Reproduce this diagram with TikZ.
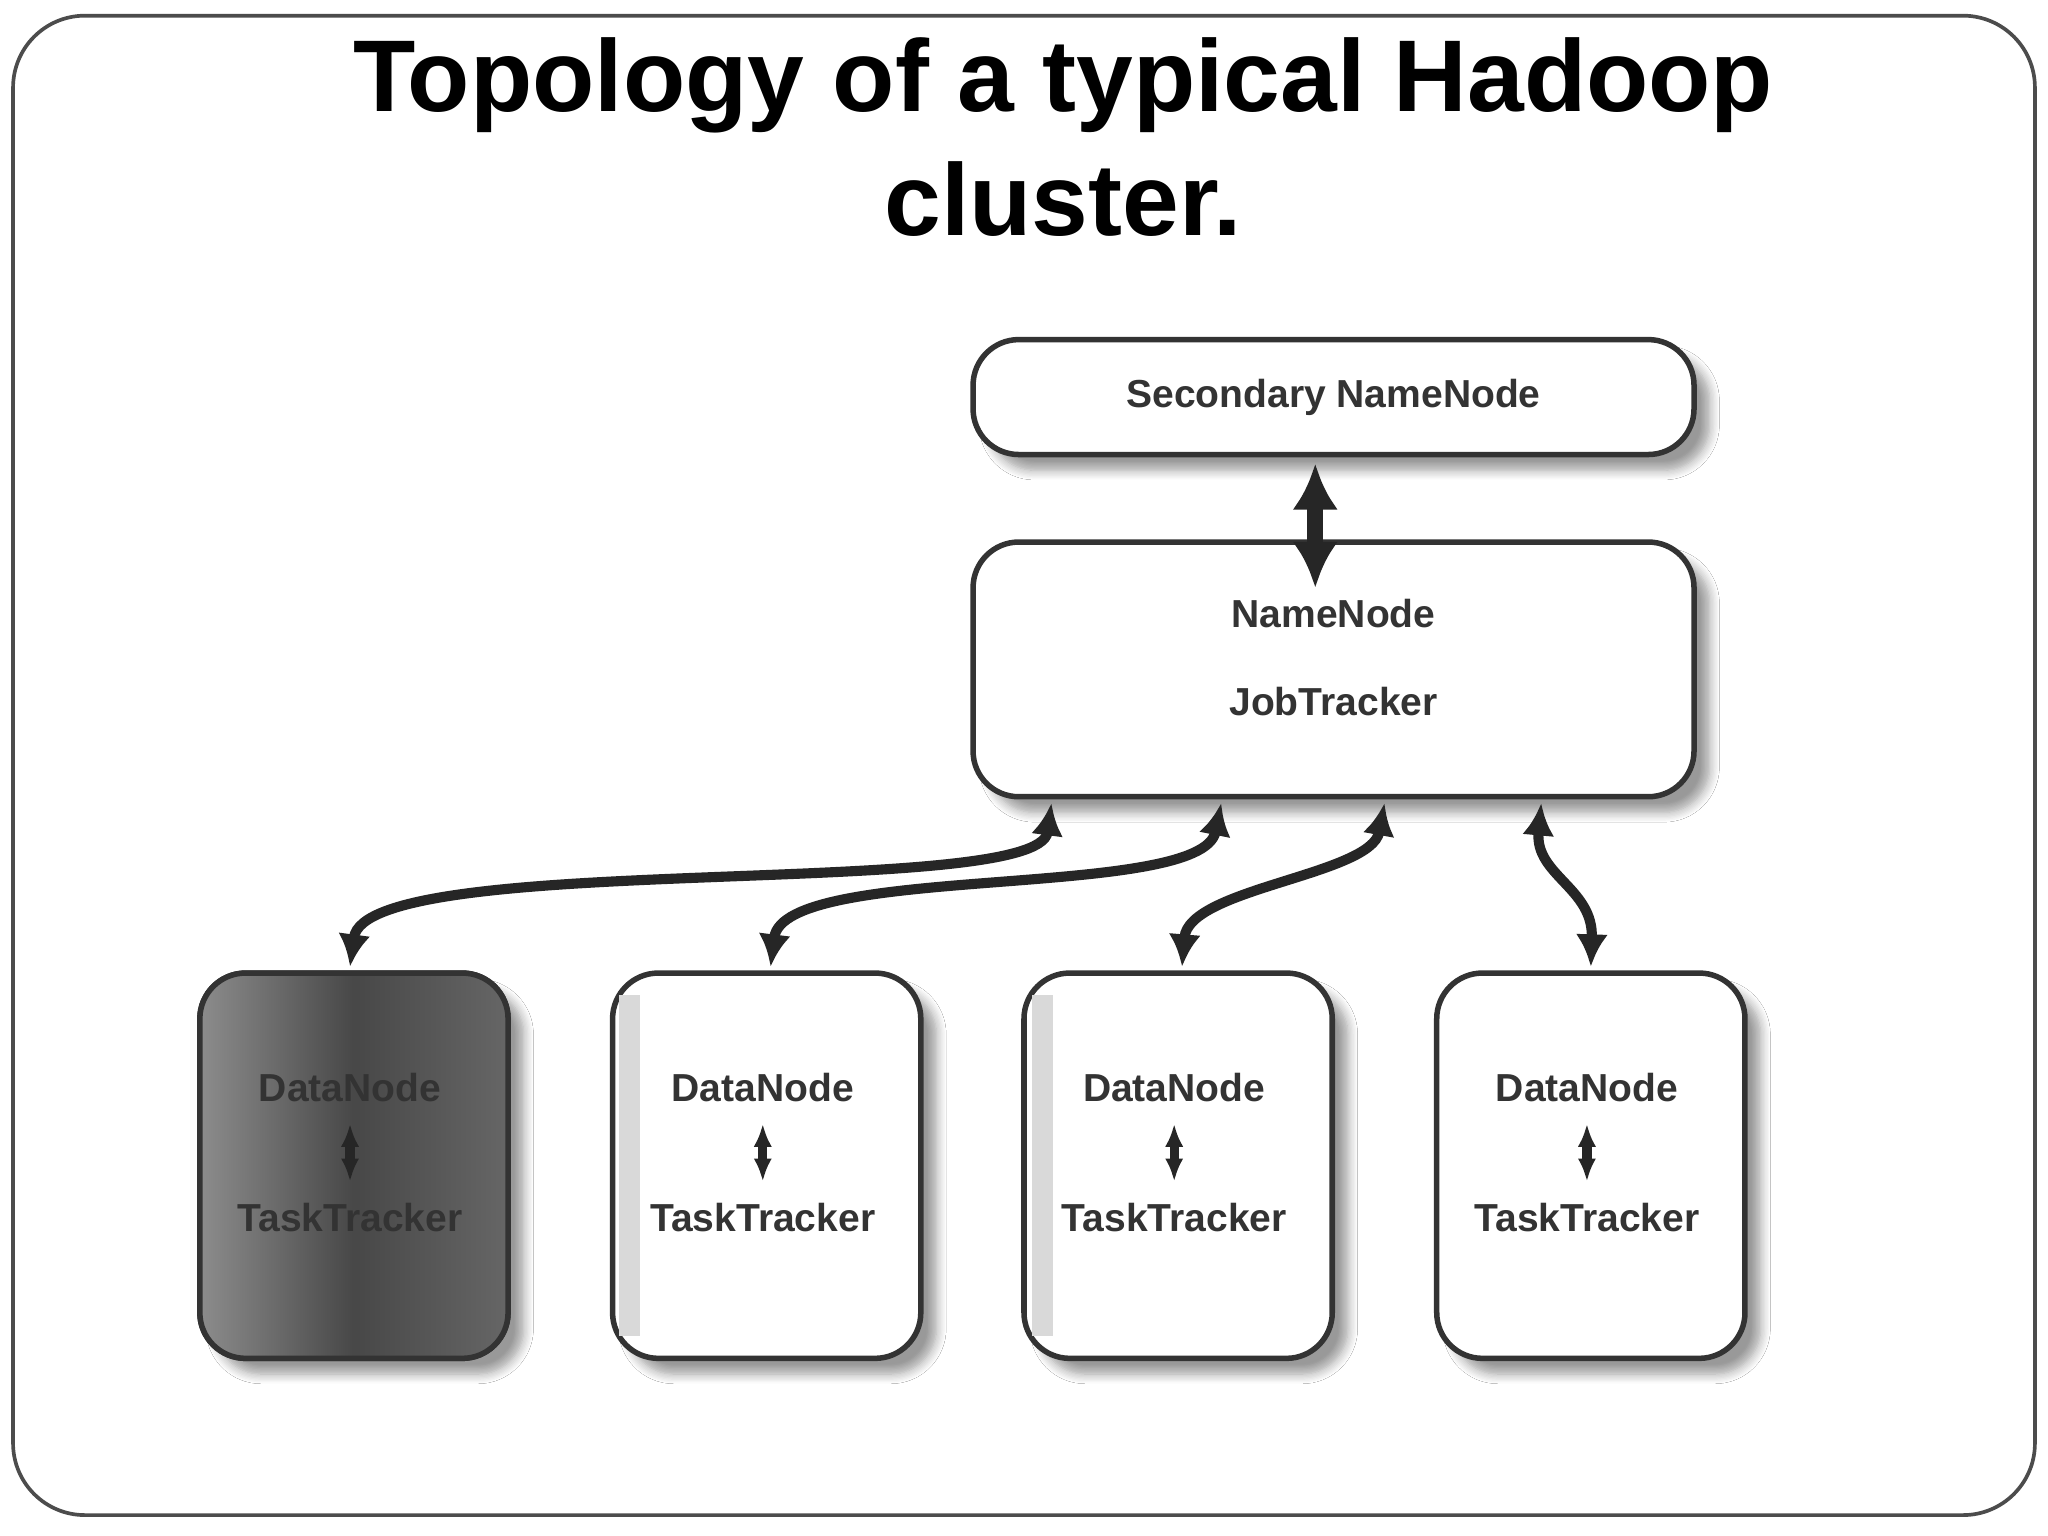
\documentclass[tikz,border=0pt]{standalone}
\usepackage{fontspec}
\setmainfont{Liberation Sans}
\usetikzlibrary{shadows.blur,arrows.meta,calc}
\begin{document}
\begin{tikzpicture}[x=0.01cm,y=-0.01cm,
 box/.style={draw=black!80,line width=1.2pt,rounded corners=0.35cm,fill=white,blur shadow={shadow xshift=0.12cm,shadow yshift=-0.12cm,shadow blur steps=8}},
 lbl/.style={font=\fontsize{8.5}{10}\selectfont\bfseries,text=black!80},
 con/.style={line width=2.2pt,black!85,{Latex[length=7pt,width=7pt]}-{Latex[length=7pt,width=7pt]}},
 inner/.style={line width=2pt,black!85,{Latex[length=5pt,width=4pt]}-{Latex[length=5pt,width=4pt]}}]
\useasboundingbox (0,0) rectangle (1568,1176);
\fill[white] (0,0) rectangle (1568,1176);
\draw[black!70,line width=0.8pt,rounded corners=0.55cm] (10,12) rectangle (1558,1160);
\node[font=\fontsize{22.2}{27}\selectfont\bfseries,align=center] (title) at (814,105) {Topology of a typical Hadoop\\cluster.};
\path[box] (745,260) rectangle (1297,348);
\node[lbl] (snn) at (1021,304) {Secondary NameNode};
\path[box] (745,415) rectangle (1297,610);
\node[lbl] (nnl) at (1021,470) {NameNode};
\node[lbl] (jtl) at (1021,537) {JobTracker};
\coordinate (s1) at (1007,355); \coordinate (s2) at (1007,450);
\draw[line width=3.5pt,black!85,{Latex[length=10pt,width=10pt]}-{Latex[length=10pt,width=10pt]}] (s1) -- (s2);
\foreach \i/\x in {1/271,2/587,3/902,4/1218}{
 \path[box] (\x-118,745) rectangle (\x+118,1040);
}
\shade[left color=black!45,right color=black!60,middle color=black!72,rounded corners=0.35cm] (153,745) rectangle (389,1040);
\draw[black!80,line width=1.2pt,rounded corners=0.35cm] (153,745) rectangle (389,1040);
\fill[black!15] (474,762) rectangle (490,1023);
\fill[black!15] (790,762) rectangle (806,1023);
\foreach \i/\x in {1/271,2/587,3/902,4/1218}{
 \node[lbl] (d\i) at (\x-3,833) {DataNode};
 \node[lbl] (t\i) at (\x-3,932) {TaskTracker};
 \draw[inner] ($(d\i.south)+(0,4)$) -- ($(t\i.north)+(0,-4)$);
}
\coordinate (a1) at (805,615); \coordinate (a2) at (935,615);
\coordinate (a3) at (1060,615); \coordinate (a4) at (1180,615);
\draw[con] (a1) .. controls (795,690) and (280,650) .. (268,740);
\draw[con] (a2) .. controls (920,690) and (600,660) .. (590,740);
\draw[con] (a3) .. controls (1050,670) and (910,680) .. (905,740);
\draw[con] (a4) .. controls (1175,670) and (1220,680) .. (1218,740);
\end{tikzpicture}
\end{document}
